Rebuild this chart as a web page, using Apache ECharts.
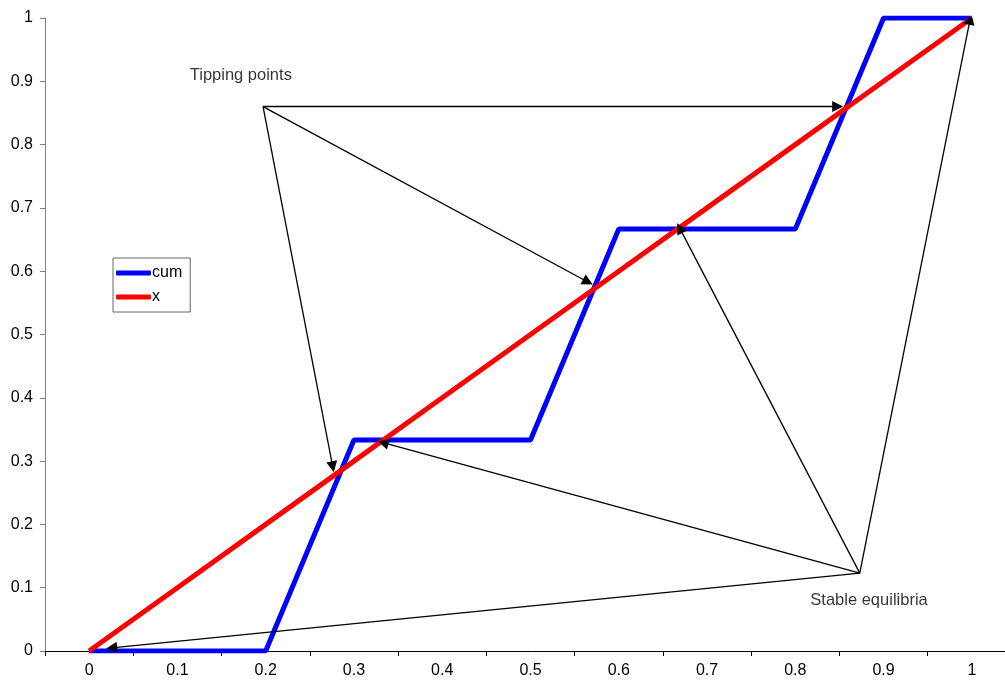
<!DOCTYPE html>
<html><head><meta charset="utf-8">
<script src="https://cdn.jsdelivr.net/npm/echarts@6/dist/echarts.min.js"></script>
<style>html,body{margin:0;padding:0;background:#fff;overflow:hidden}#c{width:1016px;height:684px}</style>
</head><body><div id="c"></div>
<script>
const categories = ['0','0.1','0.2','0.3','0.4','0.5','0.6','0.7','0.8','0.9','1'];
const cum = [0, 0, 0, 0.3333, 0.3333, 0.3333, 0.6667, 0.6667, 0.6667, 1, 1];
const xLine = [0, 0.1, 0.2, 0.3, 0.4, 0.5, 0.6, 0.7, 0.8, 0.9, 1];
const tippingSource = [0.197, 0.86];
const tippingTargets = [[0.848, 0.86], [0.565, 0.583], [0.276, 0.291]];
const stableSource = [0.873, 0.123];
const stableTargets = [[0.333, 0.329], [0.669, 0.668], [0.998, 0.998], [0.0255, 0.005]];
const labels = [
  {name: 'Tipping points', pos: [0.114, 0.91]},
  {name: 'Stable equilibria', pos: [0.817, 0.08]}
];

const font = 'Liberation Sans, Arial, sans-serif';
const arrowData = [];
tippingTargets.forEach(t => arrowData.push({coords: [tippingSource, t]}));
stableTargets.forEach(t => arrowData.push({coords: [stableSource, t]}));

const chart = echarts.init(document.getElementById('c'), null, {renderer: 'canvas'});
chart.setOption({
  animation: false,
  backgroundColor: '#fff',
  grid: {left: 45, right: 0, top: 18, bottom: 33, containLabel: false},
  legend: {
    left: 113, top: 258, orient: 'vertical',
    padding: [7, 8, 7, 3], itemGap: 8,
    borderColor: '#666', borderWidth: 1,
    itemWidth: 35, itemHeight: 5,
    textStyle: {fontFamily: font, fontSize: 16, color: '#000', padding: [0,0,0,-4]},
    data: [{name: 'cum', icon: 'roundRect'}, {name: 'x', icon: 'roundRect'}]
  },
  xAxis: [{
    type: 'category', data: categories, boundaryGap: true,
    axisLine: {lineStyle: {color: '#000', width: 1}},
    axisTick: {show: true, alignWithLabel: false, length: 5, lineStyle: {color: '#000'}},
    axisLabel: {fontFamily: font, fontSize: 16, color: '#000', margin: 12},
    splitLine: {show: false}
  }, {
    type: 'value', min: -0.05, max: 1.05, show: false
  }],
  yAxis: [{
    type: 'value', min: 0, max: 1, interval: 0.1,
    axisLine: {show: true, onZero: false, lineStyle: {color: '#808080', width: 1}},
    axisTick: {show: true, length: 5, lineStyle: {color: '#808080'}},
    axisLabel: {fontFamily: font, fontSize: 16, color: '#000', margin: 12,
      formatter: v => String(Math.round(v * 10) / 10)},
    splitLine: {show: false}
  }],
  series: [
    {name: 'cum', type: 'line', data: cum, symbol: 'none', z: 3,
     lineStyle: {color: '#0000ff', width: 5}, itemStyle: {color: '#0000ff'}},
    {name: 'x', type: 'line', data: xLine, symbol: 'none', z: 4,
     lineStyle: {color: '#ff0000', width: 5}, itemStyle: {color: '#ff0000'}},
    {type: 'lines', coordinateSystem: 'cartesian2d', xAxisIndex: 1, yAxisIndex: 0, z: 5,
     symbol: ['none', 'triangle'], symbolSize: [0, 11],
     symbolOffset: [0, [0, 5]],
     lineStyle: {color: '#000', width: 1.3, opacity: 1},
     itemStyle: {color: '#000'},
     data: arrowData},
    {type: 'scatter', xAxisIndex: 1, yAxisIndex: 0, symbolSize: 0, z: 6,
     data: labels.map(l => ({name: l.name, value: l.pos})),
     label: {show: true, position: 'right', distance: 0, formatter: p => p.name,
       fontFamily: font, fontSize: 16.5, color: '#000'}}
  ]
});
</script></body></html>
